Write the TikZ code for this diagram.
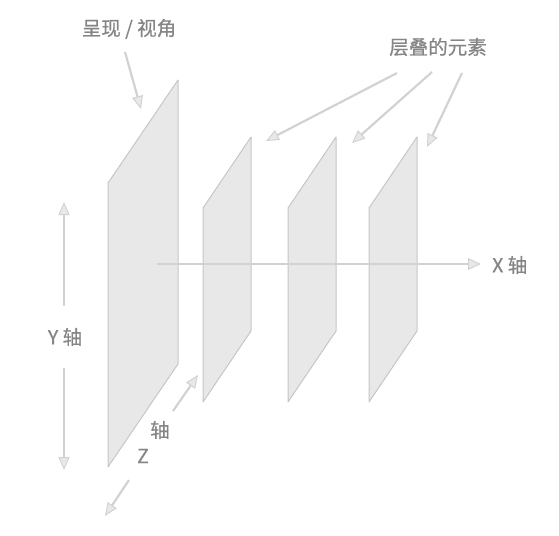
\documentclass[tikz,border=0pt]{standalone}
\usepackage{fontspec}
\setmainfont{Noto Sans CJK SC}
\newfontfamily\capfont[FakeBold=0.6]{Noto Sans CJK SC}
\usetikzlibrary{arrows.meta}
\definecolor{planefill}{HTML}{E8E8E8}
\definecolor{planeline}{HTML}{C6C6C6}
\definecolor{axisline}{HTML}{D2D2D2}
\definecolor{captext}{HTML}{858585}
\tikzset{
  plane/.style={draw=planeline, fill=planefill, line width=1pt, line join=round},
  axisarrow/.style={draw=axisline, line width=2.5pt,
    -{Triangle[length=13pt, width=12pt, fill=planefill, line width=1pt]}},
  ptr/.style={draw=axisline, line width=2.2pt,
    -{Triangle[length=13pt, width=11pt, fill=planefill, line width=1pt]}},
  captxt/.style={text=captext, font=\capfont\fontsize{19.5}{22}\selectfont, inner sep=0pt},
}
% left x, top-left y, width, rise, height
\newcommand{\layerplane}[5]{\draw[plane] (#1,#2) -- (#1+#3,#2-#4) -- (#1+#3,#2-#4+#5) -- (#1,#2+#5) -- cycle;}

\begin{document}
\begin{tikzpicture}[x=1pt, y=-1pt]
  \useasboundingbox (0,0) rectangle (559,535);

  %% ---- planes ----
  \layerplane{108}{183}{70}{103}{284}
  \foreach \lx in {203,288,369}{
    \layerplane{\lx}{208}{48}{71}{194}
  }

  %% ---- X axis ----
  \coordinate (xstart) at (157,264);
  \coordinate (xtip)   at (481,264);
  \draw[axisarrow] (xstart) -- (xtip);
  \node[captxt, anchor=west] (xlbl) at (492,265) {X 轴};

  %% ---- Y axis ----
  \node[captxt] (ylbl) at (65,337) {Y 轴};
  \coordinate (yup)  at (64,306);
  \coordinate (ytop) at (64,202);
  \coordinate (ydn)  at (64,368);
  \coordinate (ybot) at (64,470);
  \draw[ptr] (yup) -- (ytop);
  \draw[ptr] (ydn) -- (ybot);

  %% ---- Z axis ----
  \node[captxt] (zlbl1) at (160,430) {轴};
  \node[captxt] (zlbl2) at (143,456) {Z};
  \coordinate (ztail1) at (173,411);
  \coordinate (ztip1)  at (198,375);
  \coordinate (ztail2) at (129,480);
  \coordinate (ztip2)  at (105,516);
  \draw[ptr] (ztail1) -- (ztip1);
  \draw[ptr] (ztail2) -- (ztip2);

  %% ---- callouts ----
  \node[captxt] (view) at (129,29) {呈现 / 视角};
  \coordinate (viewtail) at (125,52);
  \coordinate (viewtip)  at (141,109);
  \draw[ptr] (viewtail) -- (viewtip);

  \node[captxt] (stack) at (438,47) {层叠的元素};
  \coordinate (stail1) at (397,73);
  \coordinate (stail2) at (432,72);
  \coordinate (stail3) at (462,73);
  \coordinate (stip1)  at (266,141);
  \coordinate (stip2)  at (352,143);
  \coordinate (stip3)  at (427,147);
  \draw[ptr] (stail1) -- (stip1);
  \draw[ptr] (stail2) -- (stip2);
  \draw[ptr] (stail3) -- (stip3);

\end{tikzpicture}
\end{document}
